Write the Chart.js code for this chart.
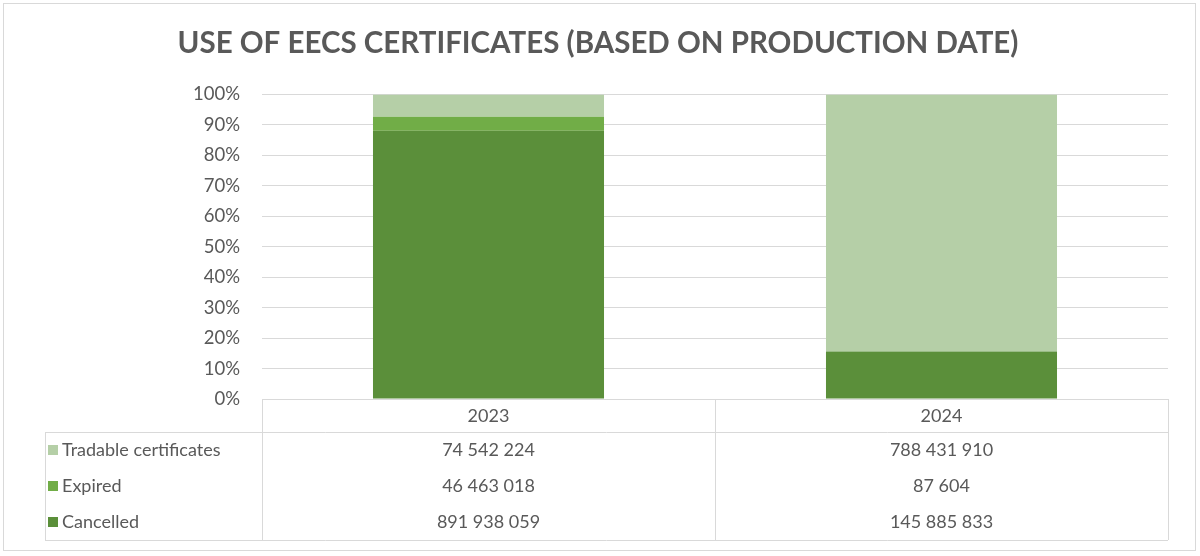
<!DOCTYPE html>
<html>
<head>
<meta charset="utf-8">
<script src="https://cdn.jsdelivr.net/npm/chart.js@4.4.1/dist/chart.umd.min.js"></script>
<style>
  html, body { margin: 0; padding: 0; background: #fff; }
  #wrap { width: 1200px; height: 556px; position: relative; }
</style>
</head>
<body>
<div id="wrap"><canvas id="eecsChart"></canvas></div>
<script>
const years = ['2023', '2024'];
const cancelled = [891938059, 145885833];
const expired = [46463018, 87604];
const tradable = [74542224, 788431910];
const yTicks = [0, 10, 20, 30, 40, 50, 60, 70, 80, 90, 100];

const totals = years.map((y, i) => cancelled[i] + expired[i] + tradable[i]);
const share = arr => arr.map((v, i) => v / totals[i] * 100);

const textColor = '#595959';
const lineColor = '#d9d9d9';
const fontFamily = 'Lato, "Open Sans", sans-serif';

function fmt(v) {
    return String(v).replace(/\B(?=(\d{3})+(?!\d))/g, ' ');
}

// data table under the plot, like the Excel one
const dataTable = {
    id: 'dataTable',
    afterDraw(chart) {
        const c = chart.ctx;
        const area = chart.chartArea;
        const x = chart.scales.x;
        const left = area.left, right = area.right, top = area.bottom;
        const headH = 33, rowH = 36;
        const labelLeft = 45;
        const bottom = top + headH + rowH * 3;
        const mid = (x.getPixelForValue(0) + x.getPixelForValue(1)) / 2;

        c.save();
        c.strokeStyle = lineColor;
        c.lineWidth = 1;
        c.beginPath();
        c.moveTo(left, top + 0.5); c.lineTo(right, top + 0.5);
        c.moveTo(labelLeft, top + headH + 0.5); c.lineTo(right, top + headH + 0.5);
        c.moveTo(labelLeft, bottom + 0.5); c.lineTo(right, bottom + 0.5);
        c.moveTo(labelLeft + 0.5, top + headH); c.lineTo(labelLeft + 0.5, bottom);
        [left, mid, right].forEach(px => {
            c.moveTo(Math.round(px) + 0.5, top); c.lineTo(Math.round(px) + 0.5, bottom);
        });
        c.stroke();

        c.fillStyle = textColor;
        c.font = '18px ' + fontFamily;
        c.textBaseline = 'middle';
        c.textAlign = 'center';
        chart.data.labels.forEach((lab, i) => {
            c.fillText(lab, x.getPixelForValue(i), top + headH / 2 + 1);
        });

        const sets = chart.data.datasets.slice().reverse();
        sets.forEach((ds, r) => {
            const cy = top + headH + rowH * r + rowH / 2;
            c.fillStyle = ds.backgroundColor;
            c.fillRect(labelLeft + 3, cy - 5, 10, 10);
            c.fillStyle = textColor;
            c.textAlign = 'left';
            c.fillText(ds.label, labelLeft + 17, cy);
            c.textAlign = 'center';
            ds.raw.forEach((v, i) => {
                c.fillText(fmt(v), x.getPixelForValue(i), cy);
            });
        });

        // outer frame
        c.strokeStyle = lineColor;
        c.strokeRect(3.5, 3.5, 1192, 547);
        c.restore();
    }
};

const ctx = document.getElementById('eecsChart').getContext('2d');

new Chart(ctx, {
    type: 'bar',
    data: {
        labels: years,
        datasets: [{
            label: 'Cancelled',
            data: share(cancelled),
            raw: cancelled,
            backgroundColor: '#5b8f3a'
        }, {
            label: 'Expired',
            data: share(expired),
            raw: expired,
            backgroundColor: '#71ad47'
        }, {
            label: 'Tradable certificates',
            data: share(tradable),
            raw: tradable,
            backgroundColor: '#b5cfa7'
        }]
    },
    options: {
        responsive: true,
        maintainAspectRatio: false,
        animation: false,
        layout: {
            padding: { left: 28, right: 32, top: 0, bottom: 157 }
        },
        plugins: {
            legend: { display: false },
            title: {
                display: true,
                text: 'USE OF EECS CERTIFICATES (BASED ON PRODUCTION DATE)',
                color: textColor,
                font: { family: fontFamily, size: 29.5, weight: 'bold' },
                padding: { top: 26, bottom: 33 }
            },
            tooltip: {
                callbacks: {
                    label: item => item.dataset.label + ': ' + fmt(item.dataset.raw[item.dataIndex])
                }
            }
        },
        scales: {
            x: {
                stacked: true,
                display: false,
                grid: { display: false }
            },
            y: {
                stacked: true,
                min: 0,
                max: 100,
                afterFit: scale => { scale.width = 234; },
                afterBuildTicks: scale => { scale.ticks = yTicks.map(v => ({ value: v })); },
                ticks: {
                    color: textColor,
                    padding: 22,
                    font: { family: fontFamily, size: 18.5 },
                    callback: v => v + '%'
                },
                grid: {
                    color: lineColor,
                    drawTicks: false
                },
                border: { display: false }
            }
        },
        datasets: {
            bar: {
                categoryPercentage: 1,
                barPercentage: 0.51
            }
        }
    },
    plugins: [dataTable]
});
</script>
</body>
</html>
